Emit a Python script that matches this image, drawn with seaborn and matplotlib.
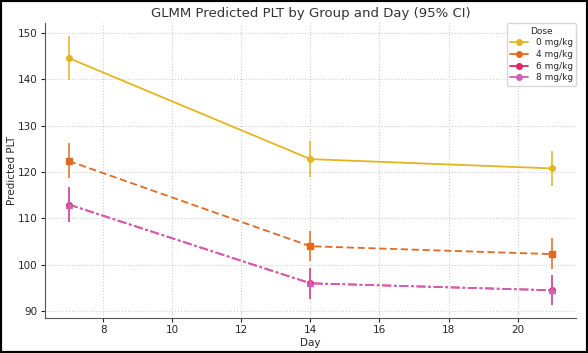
import pandas as pd
import matplotlib.pyplot as plt
import seaborn as sns
from matplotlib.patches import Rectangle

sns.set_style("whitegrid")

## data ##
days = [7, 14, 21]
doses = ["0 mg/kg", "4 mg/kg", "6 mg/kg", "8 mg/kg"]
pred_0 = [144.6, 122.8, 120.8]
pred_4 = [122.4, 104.0, 102.3]
pred_6 = [113.0, 96.0, 94.5]
pred_8 = [113.0, 96.0, 94.5]
lo_0 = [139.8, 119.0, 117.0]
hi_0 = [149.3, 126.7, 124.6]
lo_4 = [118.7, 100.8, 99.0]
hi_4 = [126.3, 107.4, 105.7]
lo_6 = [109.3, 92.7, 91.4]
hi_6 = [116.7, 99.3, 97.7]
lo_8 = [109.3, 92.7, 91.4]
hi_8 = [116.7, 99.3, 97.7]

colors = ["#E3B51E", "#E06A22", "#E0245E", "#D35FB4"]
markers = ["o", "s", "o", "^"]
dashes = [(None, None), (4, 2), (5, 1.5, 1.5, 1.5), (5, 1.5, 1.5, 1.5)]

df = pd.DataFrame({
    "Day": days * 4,
    "Pred": pred_0 + pred_4 + pred_6 + pred_8,
    "lo": lo_0 + lo_4 + lo_6 + lo_8,
    "hi": hi_0 + hi_4 + hi_6 + hi_8,
    "Dose": [d for d in doses for _ in days],
})

fig = plt.figure(figsize=(5.88, 3.53), dpi=100)
ax = fig.add_axes([0.076, 0.099, 0.904, 0.836])

for i, d in enumerate(doses):
    sub = df[df["Dose"] == d]
    ax.vlines(sub["Day"], sub["lo"], sub["hi"], color=colors[i], lw=1.3, alpha=0.85)
    ln, = ax.plot(sub["Day"], sub["Pred"], color=colors[i], marker=markers[i],
                  ms=4, lw=1.3, label=d)
    if dashes[i][0] is not None:
        ln.set_dashes(dashes[i])

ax.set_title("GLMM Predicted PLT by Group and Day (95% CI)", fontsize=9.5, color="#333333", pad=4)
ax.set_xlabel("Day", fontsize=7.5, labelpad=2)
ax.set_ylabel("Predicted PLT", fontsize=7.5)
ax.yaxis.set_label_coords(-0.052, 0.5)
ax.set_xticks([8, 10, 12, 14, 16, 18, 20])
ax.set_yticks([90, 100, 110, 120, 130, 140, 150])
ax.tick_params(labelsize=7.5, pad=2, length=3, left=True, bottom=True)
ax.grid(True, ls=":", color="#cccccc", lw=0.8)
for s in ["top", "right"]:
    ax.spines[s].set_visible(False)
for s in ["left", "bottom"]:
    ax.spines[s].set_color("#555555")
    ax.spines[s].set_linewidth(0.8)

leg = ax.legend(title="Dose", fontsize=6.5, title_fontsize=6.5, loc="upper right",
                bbox_to_anchor=(1.0, 1.0), borderaxespad=0.0, frameon=True,
                handlelength=2.0, labelspacing=0.3, borderpad=0.4)
for h in leg.legend_handles:
    h.set_linestyle("-")
    h.set_marker("o")

fig.patches.append(Rectangle((0, 0), 1, 1, transform=fig.transFigure,
                             fill=False, edgecolor="black", lw=3))
plt.savefig("out.png", dpi=100)
